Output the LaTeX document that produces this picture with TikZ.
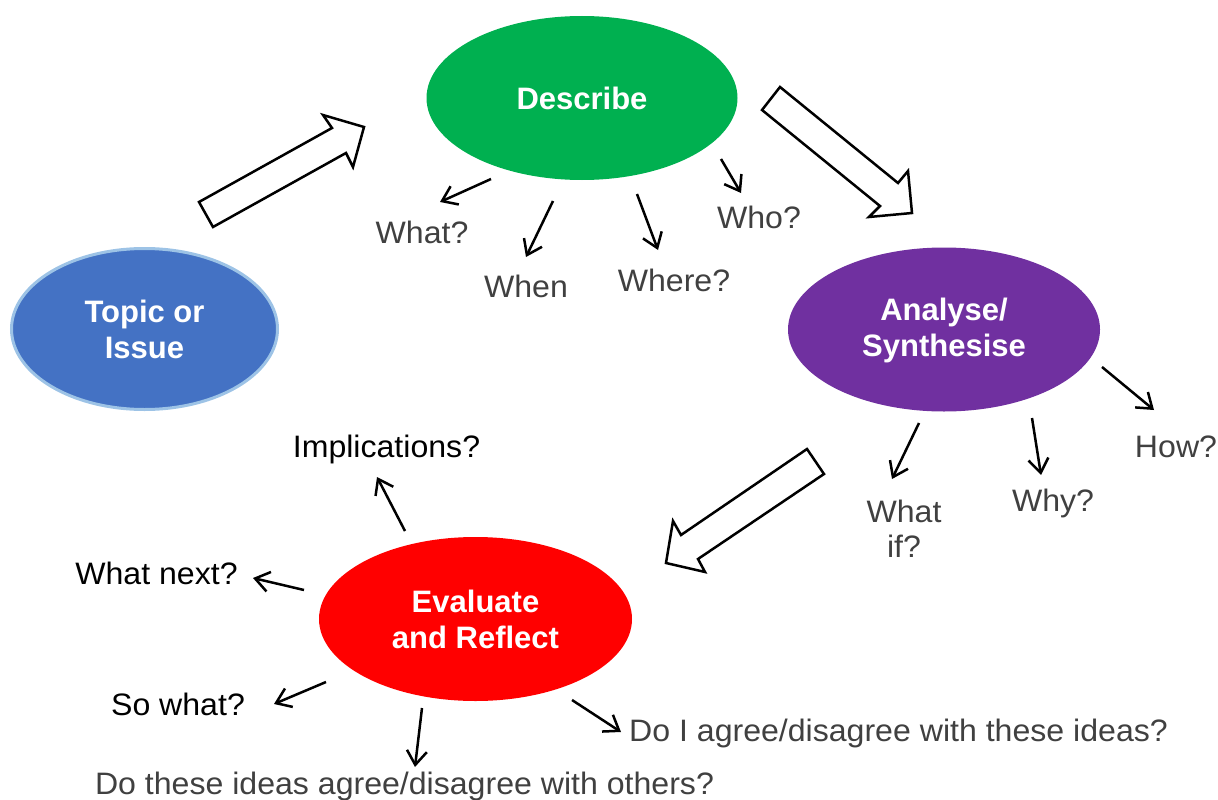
\documentclass[tikz,border=0pt]{standalone}
\usepackage{fontspec}
\setmainfont{Liberation Sans}
\newfontfamily\lblfont{Liberation Sans}[FakeStretch=1.035]
\usetikzlibrary{shapes.geometric,arrows.meta}
\definecolor{dgreen}{HTML}{00B050}
\definecolor{tblue}{HTML}{4472C4}
\definecolor{tborder}{HTML}{9DC3E6}
\definecolor{apurple}{HTML}{7030A0}
\definecolor{ered}{HTML}{FF0000}
\definecolor{tgray}{HTML}{404040}
\tikzset{
  bubble/.style={ellipse, inner sep=0pt, text=white, align=center,
    font=\fontsize{31}{36}\selectfont\bfseries},
  lbl/.style={anchor=base, inner sep=0pt, text=tgray,
    font=\lblfont\fontsize{31}{35}\selectfont},
  lblk/.style={lbl, text=black},
  ptr/.style={line width=2.5pt, draw=black,
    -{Straight Barb[length=14pt,width=20pt,line width=2.5pt]}},
  bigarrow/.style={draw=black, line width=2.5pt, fill=white, line join=miter},
}
\begin{document}
\begin{tikzpicture}[x=1pt,y=-1pt]
\useasboundingbox (0,0) rectangle (1218,800);

% ellipses
\node[bubble, fill=dgreen, minimum width=311pt, minimum height=164pt] (describe) at (582,98) {Describe};
\node[bubble, fill=tblue, draw=tborder, line width=3pt, minimum width=266pt, minimum height=161pt] (topic) at (144.5,329) {Topic or\\Issue};
\node[bubble, fill=apurple, minimum width=312pt, minimum height=164pt] (analyse) at (944,329.5) {\strut Analyse/\\Synthesise};
\node[bubble, fill=ered, minimum width=313pt, minimum height=164pt] (evaluate) at (475.5,619) {Evaluate\\and Reflect};

% block arrows
\draw[bigarrow] (199,202) -- (332,128) -- (323,115) -- (364,127) -- (353,167) -- (346,153) -- (213,227) -- cycle;
\draw[bigarrow] (780,87) -- (898,183) -- (908,171) -- (912,213) -- (869,217) -- (880,206) -- (762,110) -- cycle;
\draw[bigarrow] (807,449) -- (824,474) -- (698,559) -- (705,572) -- (666,563) -- (673,521) -- (681,535) -- cycle;

% labels
\node[lbl] (what) at (422,243) {What?};
\node[lbl] (when) at (526,297) {When};
\node[lbl] (where) at (674,291) {Where?};
\node[lbl] (who) at (759,228) {Who?};
\node[lbl, anchor=north, align=center] (whatif) at (904,500) {What\\if?};
\node[lbl] (why) at (1053,511) {Why?};
\node[lbl] (how) at (1176,457) {How?};
\node[lblk] (impl) at (386.5,457) {Implications?};
\node[lblk] (next) at (156.5,584) {What next?};
\node[lblk] (sowhat) at (178,715) {So what?};
\node[lbl] (others) at (404.5,794) {Do these ideas agree/disagree with others?};
\node[lbl] (agree) at (898.5,741) {Do I agree/disagree with these ideas?};

% pointer coordinates
\coordinate (d1s) at (491,179); \coordinate (d1e) at (440,202);
\coordinate (d2s) at (553,201); \coordinate (d2e) at (526,257);
\coordinate (d3s) at (637,194); \coordinate (d3e) at (658,250);
\coordinate (d4s) at (721,159); \coordinate (d4e) at (741,193);
\coordinate (a1s) at (919,423); \coordinate (a1e) at (892,479);
\coordinate (a2s) at (1032,418); \coordinate (a2e) at (1041,475);
\coordinate (a3s) at (1102,367); \coordinate (a3e) at (1154,410);
\coordinate (e1s) at (405,531); \coordinate (e1e) at (377,477);
\coordinate (e2s) at (304,590); \coordinate (e2e) at (253,578);
\coordinate (e3s) at (326,682); \coordinate (e3e) at (274,704);
\coordinate (e4s) at (422,708); \coordinate (e4e) at (415,767);
\coordinate (e5s) at (572,700); \coordinate (e5e) at (621,732);

\draw[ptr] (d1s) -- (d1e);
\draw[ptr] (d2s) -- (d2e);
\draw[ptr] (d3s) -- (d3e);
\draw[ptr] (d4s) -- (d4e);
\draw[ptr] (a1s) -- (a1e);
\draw[ptr] (a2s) -- (a2e);
\draw[ptr] (a3s) -- (a3e);
\draw[ptr] (e1s) -- (e1e);
\draw[ptr] (e2s) -- (e2e);
\draw[ptr] (e3s) -- (e3e);
\draw[ptr] (e4s) -- (e4e);
\draw[ptr] (e5s) -- (e5e);
\end{tikzpicture}
\end{document}
